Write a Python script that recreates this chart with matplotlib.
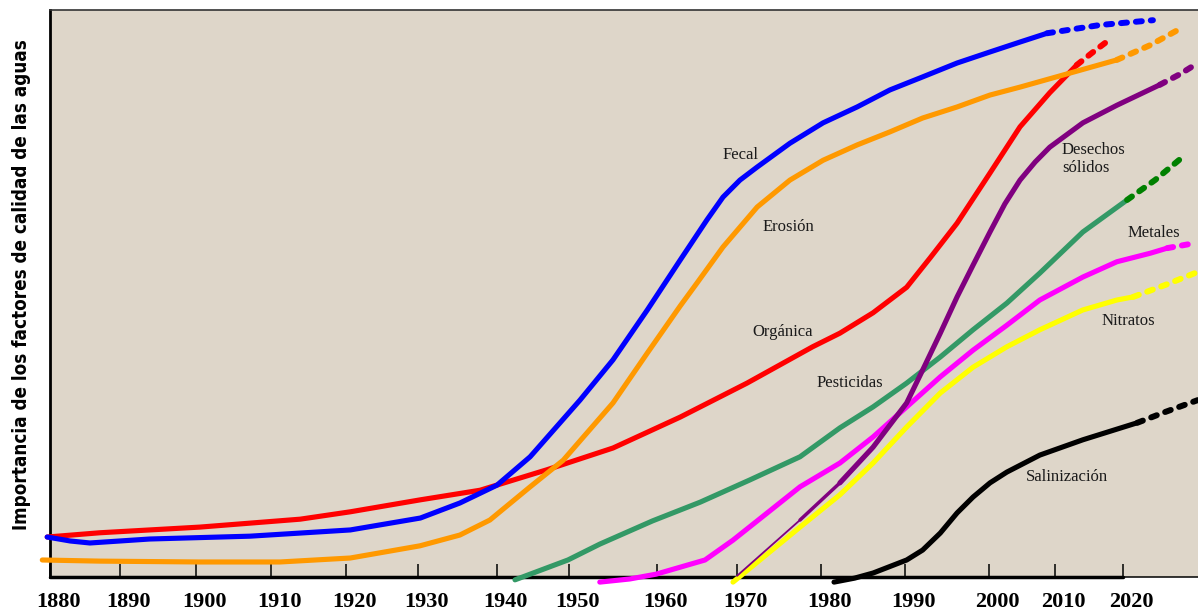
import numpy as np
import matplotlib
matplotlib.use('Agg')
import matplotlib.pyplot as plt
from matplotlib.transforms import ScaledTranslation

#
# Data: year vs. relative importance (0-100)
#
tick_years = [1880, 1890, 1900, 1910, 1920, 1930, 1940, 1950,
              1960, 1970, 1980, 1990, 2000, 2010, 2020]

fecal_x = [1879.6, 1882.9, 1885.7, 1893.9, 1907.2, 1920.6, 1930.3, 1935.3, 1940.0,
           1944.6, 1951.25, 1955.0, 1958.9, 1962.9, 1966.25, 1968.25, 1970.35,
           1972.4, 1976.3, 1980.25, 1984.3, 1988.2, 1992.1, 1996.2, 2000.15, 2004.7,
           2008.8]
fecal_y = [7.05, 6.35, 6.0, 6.7, 7.2, 8.3, 10.4, 13.05, 16.2,
           21.2, 31.2, 38.3, 47.1, 55.9, 63.0, 67.0, 70.0,
           72.3, 76.5, 80.1, 82.9, 85.9, 88.2, 90.65, 92.6, 94.35,
           95.9]
fecal_proj_x = [2008.8, 2016.6, 2024.4]
fecal_proj_y = [95.9, 97.35, 98.2]

erosion_x = [1878.9, 1887.1, 1900.5, 1911.2, 1920.6, 1930.25, 1935.3, 1939.1, 1944.6,
             1949.2, 1955.0, 1958.9, 1962.9, 1965.0, 1968.25, 1972.4, 1976.3, 1980.25,
             1984.3, 1988.2, 1992.1, 1996.2, 2000.15, 2004.7, 2019.1]
erosion_y = [3.0, 2.8, 2.65, 2.65, 3.35, 5.5, 7.4, 10.05, 15.9,
             20.6, 30.7, 39.5, 47.8, 51.85, 58.2, 65.25, 70.0, 73.5,
             76.2, 78.5, 80.95, 82.9, 85.0, 86.4, 91.2]
erosion_proj_x = [2019.1, 2024.0, 2028.1]
erosion_proj_y = [91.2, 93.8, 96.5]

organica_x = [1879.6, 1887.1, 1900.5, 1913.9, 1920.6, 1930.25, 1937.85, 1946.9, 1955.0,
              1962.9, 1971.2, 1979.0, 1982.25, 1986.2, 1990.2, 1993.0, 1996.2,
              2000.15, 2004.7, 2009.2, 2013.2]
organica_y = [7.05, 7.8, 8.8, 10.2, 11.5, 13.6, 15.3, 18.9, 22.75,
              28.2, 34.2, 40.6, 43.0, 46.6, 51.1, 56.3, 62.4,
              71.25, 79.4, 85.4, 90.3]
organica_proj_x = [2013.2, 2015.4, 2017.6]
organica_proj_y = [90.3, 92.4, 94.4]

desechos_x = [1970.0, 1977.5, 1982.25, 1986.2, 1990.2, 1992.1, 1994.2, 1996.2, 1998.1,
              2000.15, 2002.4, 2004.7, 2007.0, 2009.2, 2014.1, 2019.1, 2025.4]
desechos_y = [0.2, 10.05, 16.6, 22.9, 30.7, 36.5, 43.0, 49.4, 55.0,
              60.85, 65.8, 70.0, 73.2, 75.8, 80.1, 83.2, 86.8]
desechos_proj_x = [2025.4, 2028.4, 2031.0]
desechos_proj_y = [86.8, 88.7, 90.65]

pesticidas_x = [1942.5, 1949.85, 1953.5, 1959.5, 1965.4, 1971.5, 1977.5, 1982.25, 1986.2,
                1990.2, 1994.2, 1998.1, 2002.7, 2007.7, 2014.1, 2020.6]
pesticidas_y = [-0.5, 3.0, 5.8, 9.9, 13.2, 17.1, 21.2, 26.3, 30.0,
                34.2, 38.8, 43.6, 48.3, 53.6, 60.85, 66.5]
pesticidas_proj_x = [2020.6, 2024.7, 2028.4]
pesticidas_proj_y = [66.5, 70.0, 73.7]

metales_x = [1953.5, 1956.9, 1959.9, 1966.0, 1969.5, 1973.6, 1977.5, 1982.25, 1986.2,
             1990.2, 1994.2, 1998.1, 2002.7, 2007.7, 2014.1, 2019.1, 2024.0, 2026.5]
metales_y = [-0.9, -0.35, 0.5, 3.0, 6.5, 11.3, 15.9, 20.1, 24.7,
             30.0, 35.3, 40.0, 44.4, 48.85, 52.9, 55.6, 57.1, 58.0]
metales_proj_x = [2026.5, 2030.6]
metales_proj_y = [58.0, 58.9]

nitratos_x = [1969.5, 1977.5, 1982.25, 1986.2, 1990.2, 1994.2, 1998.1, 2002.7, 2007.7,
              2014.1, 2019.1, 2021.5]
nitratos_y = [-0.9, 8.8, 14.5, 20.1, 26.45, 32.45, 37.0, 40.6, 43.6,
              47.1, 48.85, 49.4]
nitratos_proj_x = [2021.5, 2026.2, 2031.0]
nitratos_proj_y = [49.4, 51.5, 53.8]

salinizacion_x = [1981.55, 1984.0, 1986.2, 1990.2, 1992.1, 1994.2, 1996.2, 1998.1, 2000.15,
                  2002.7, 2007.7, 2014.1, 2022.1]
salinizacion_y = [-0.9, -0.2, 0.7, 3.0, 4.75, 7.75, 11.3, 14.1, 16.6,
                  18.5, 21.5, 24.2, 27.2]
salinizacion_proj_x = [2022.1, 2026.2, 2031.0]
salinizacion_proj_y = [27.2, 29.1, 31.2]

# label text and anchor (left edge, vertical centre)
labels = ['Fecal', 'Erosión', 'Orgánica', 'Pesticidas', 'Desechos\nsólidos',
          'Metales', 'Nitratos', 'Salinización']
label_x = [1968.25, 1973.0, 1971.8, 1979.5, 2011.0, 2020.7, 2016.9, 2005.6]
label_y = [74.4, 61.7, 43.2, 34.2, 73.7, 60.7, 45.15, 17.6]

#
# The original decades are not evenly spaced: piecewise axis scale
#
AXIS_YEARS = [1860, 1870, 1880, 1890, 1900, 1910, 1920, 1930, 1940, 1950,
              1960, 1970, 1980, 1990, 2000, 2010, 2020, 2030, 2040]
AXIS_PX = [-90, -20, 50, 120, 196, 271, 346, 418, 497, 569,
           657, 737, 821, 905, 989, 1055, 1123, 1191, 1259]

def fwd(x):
  return np.interp(x, AXIS_YEARS, AXIS_PX)

def inv(p):
  return np.interp(p, AXIS_PX, AXIS_YEARS)

W, H = 1198, 610
fig = plt.figure(figsize=(W/100, H/100), dpi=100)
ax = fig.add_axes([50/W, 33/H, 1148/W, 567/H])
ax.set_facecolor('#ded6c9')
ax.set_xscale('function', functions=(fwd, inv))
ax.set_xlim(1880, inv(1198))
ax.set_ylim(0, 100)

LW = 3.7
DASH = (0, (1.0, 1.5))

def curve(xs, ys, pxs, pys, color, pcolor=None, z=3):
  ax.plot(xs, ys, color=color, lw=LW, solid_capstyle='round',
          solid_joinstyle='round', clip_on=False, zorder=z)
  ax.plot(pxs, pys, color=pcolor or color, lw=LW+0.6, linestyle=DASH,
          dash_capstyle='round', clip_on=False, zorder=z)

curve(organica_x, organica_y, organica_proj_x, organica_proj_y, '#ff0000')
curve(fecal_x, fecal_y, fecal_proj_x, fecal_proj_y, '#0000ff')
curve(erosion_x, erosion_y, erosion_proj_x, erosion_proj_y, '#ff9900')
curve(pesticidas_x, pesticidas_y, pesticidas_proj_x, pesticidas_proj_y,
      '#339966', pcolor='#008000')
curve(metales_x, metales_y, metales_proj_x, metales_proj_y, '#ff00ff')
curve(nitratos_x, nitratos_y, nitratos_proj_x, nitratos_proj_y, '#ffff00')
# purple starts as a thin line and thickens
ax.plot(desechos_x[:2], desechos_y[:2], color='#800080', lw=1.3,
        solid_capstyle='round', clip_on=False, zorder=3)
ax.plot(desechos_x[1:3], desechos_y[1:3], color='#800080', lw=2.5,
        solid_capstyle='round', clip_on=False, zorder=3)
curve(desechos_x[2:], desechos_y[2:], desechos_proj_x, desechos_proj_y, '#800080')
curve(salinizacion_x, salinizacion_y, salinizacion_proj_x, salinizacion_proj_y, '#000000')

for txt, lx, ly in zip(labels, label_x, label_y):
  ax.text(lx, ly, txt, ha='left', va='center', fontsize=12,
          family='Liberation Serif', color='#1a1a1a', zorder=4)

# axes frame
ax.spines['right'].set_visible(False)
ax.spines['top'].set_linewidth(1.2)
ax.spines['top'].set_color('#333333')
ax.spines['left'].set_linewidth(2.0)
ax.spines['bottom'].set_linewidth(2.5)
ax.spines['bottom'].set_bounds(1880, 2020)
ax.spines['bottom'].set_capstyle('round')
ax.hlines(0, 2020, inv(1198), color='k', lw=1.1, clip_on=False, zorder=2)

ax.set_yticks([])
ax.set_xticks(tick_years)
ax.set_xticklabels([str(y) for y in tick_years])
ax.tick_params(axis='x', direction='in', length=9.5, width=1.1, color='k',
               pad=10.5, labelsize=16)
shift = ScaledTranslation(8/100, 0, fig.dpi_scale_trans)
for lab in ax.get_xticklabels():
  lab.set_fontfamily('Liberation Serif')
  lab.set_fontweight('bold')
  lab.set_transform(lab.get_transform() + shift)
ax.minorticks_off()

fig.text(22/W, 1 - 285/H, 'Importancia de los factores de calidad de las aguas',
         rotation=90, ha='center', va='center', fontsize=13.5,
         fontweight='bold', fontstretch='condensed', family='DejaVu Sans',
         color='k')

fig.savefig('out.png', dpi=100)
